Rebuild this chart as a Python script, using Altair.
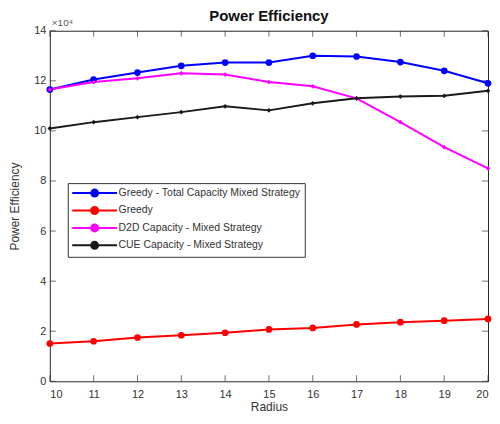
import altair as alt
import pandas as pd

radius = [10, 11, 12, 13, 14, 15, 16, 17, 18, 19, 20]
series_names = [
    "Greedy - Total Capacity Mixed Strategy",
    "Greedy",
    "D2D Capacity - Mixed Strategy",
    "CUE Capacity - Mixed Strategy",
]
# values in units of 10^4
greedy_total = [11.65, 12.05, 12.33, 12.6, 12.73, 12.73, 13.0, 12.97, 12.75, 12.4, 11.9]
greedy = [1.51, 1.6, 1.75, 1.84, 1.94, 2.07, 2.13, 2.27, 2.36, 2.42, 2.49]
d2d = [11.65, 11.95, 12.1, 12.3, 12.25, 11.95, 11.78, 11.3, 10.35, 9.35, 8.5]
cue = [10.1, 10.35, 10.55, 10.75, 10.98, 10.82, 11.1, 11.3, 11.37, 11.4, 11.6]
colors = ["#0000ff", "#ff0000", "#ff00ff", "#1a1a1a"]
y_ticks = [0, 2, 4, 6, 8, 10, 12, 14]

rows = []
for name, vals in zip(series_names, [greedy_total, greedy, d2d, cue]):
    for r, v in zip(radius, vals):
        rows.append({"Radius": r, "Value": v, "Series": name})
df = pd.DataFrame(rows)

W, H = 440, 352
xs = alt.Scale(domain=[10, 20], nice=False)
ys = alt.Scale(domain=[0, 14], nice=False)
txt = "#333333"

color = alt.Color(
    "Series:N",
    scale=alt.Scale(domain=series_names, range=colors),
    sort=series_names,
    legend=alt.Legend(
        title=None,
        orient="none",
        legendX=18,
        legendY=153,
        symbolType="M-4.5,0H-0.7M0.7,0H4.5M-0.7,0A0.7,0.7,0,1,1,0.7,0A0.7,0.7,0,1,1,-0.7,0Z",
        symbolSize=100,
        symbolOffset=17,
        symbolStrokeWidth=1.5,
        labelFontSize=10.5,
        labelColor=txt,
        labelFont="Liberation Sans",
        labelOffset=18,
        labelLimit=400,
        rowPadding=1.5,
        padding=4,
        strokeColor="#333333",
        fillColor="white",
        cornerRadius=0,
    ),
)

base = alt.Chart(df)
lines = base.mark_line().encode(
    x=alt.X("Radius:Q", scale=xs, title="Radius",
            axis=alt.Axis(values=radius, labelFlush=True, labelPadding=7, titlePadding=2)),
    y=alt.Y("Value:Q", scale=ys, title="Power Efficiency",
            axis=alt.Axis(values=y_ticks)),
    color=color,
    strokeWidth=alt.StrokeWidth("Series:N", scale=alt.Scale(domain=series_names, range=[2, 2, 1, 1]), legend=None),
)
circles = base.transform_filter(
    alt.FieldOneOfPredicate(field="Series", oneOf=series_names[:2])
).mark_point(filled=True, opacity=1, shape="circle", size=45).encode(
    x=alt.X("Radius:Q", scale=xs),
    y=alt.Y("Value:Q", scale=ys),
    color=color,
)
diamonds = base.transform_filter(
    alt.FieldOneOfPredicate(field="Series", oneOf=series_names[2:])
).mark_point(filled=True, opacity=1, shape="diamond", size=22).encode(
    x=alt.X("Radius:Q", scale=xs),
    y=alt.Y("Value:Q", scale=ys),
    color=color,
)

ytick_df = pd.DataFrame({"t": y_ticks})
xtick_df = pd.DataFrame({"t": radius})
ytl = alt.Chart(ytick_df).mark_tick(color=txt, thickness=1, size=6).encode(
    y=alt.Y("t:Q", scale=ys), x=alt.value(3))
ytr = alt.Chart(ytick_df).mark_tick(color=txt, thickness=1, size=6).encode(
    y=alt.Y("t:Q", scale=ys), x=alt.value(W - 3))
xtb = alt.Chart(xtick_df).mark_tick(color=txt, thickness=1, size=6).encode(
    x=alt.X("t:Q", scale=xs), y=alt.value(H - 3))
xtt = alt.Chart(xtick_df).mark_tick(color=txt, thickness=1, size=6).encode(
    x=alt.X("t:Q", scale=xs), y=alt.value(3))

exp_text = alt.Chart(pd.DataFrame({"s": ["\u00d710\u2074"]})).mark_text(
    align="left", baseline="bottom", fontSize=10, color="#555555", font="Liberation Sans"
).encode(text="s:N", x=alt.value(2), y=alt.value(-3))

chart = alt.layer(ytl, ytr, xtb, xtt, lines, circles, diamonds, exp_text).properties(
    width=W,
    height=H,
    padding={"left": 0, "top": 0, "right": 0, "bottom": 0},
    title=alt.TitleParams("Power Efficiency", fontSize=15, fontWeight="bold",
                          font="Liberation Sans", color="#111111", offset=-6, frame="group"),
).configure_axis(
    grid=False, domain=False, ticks=False,
    labelFont="Liberation Sans", labelFontSize=11, labelColor=txt,
    titleFont="Liberation Sans", titleFontSize=12, titleColor=txt, titleFontWeight="normal",
    labelPadding=4,
).configure_axisY(titlePadding=12).configure_view(
    stroke="#262626", strokeWidth=1
)

chart.save("out.html", embed_options={"renderer": "svg", "actions": False})
